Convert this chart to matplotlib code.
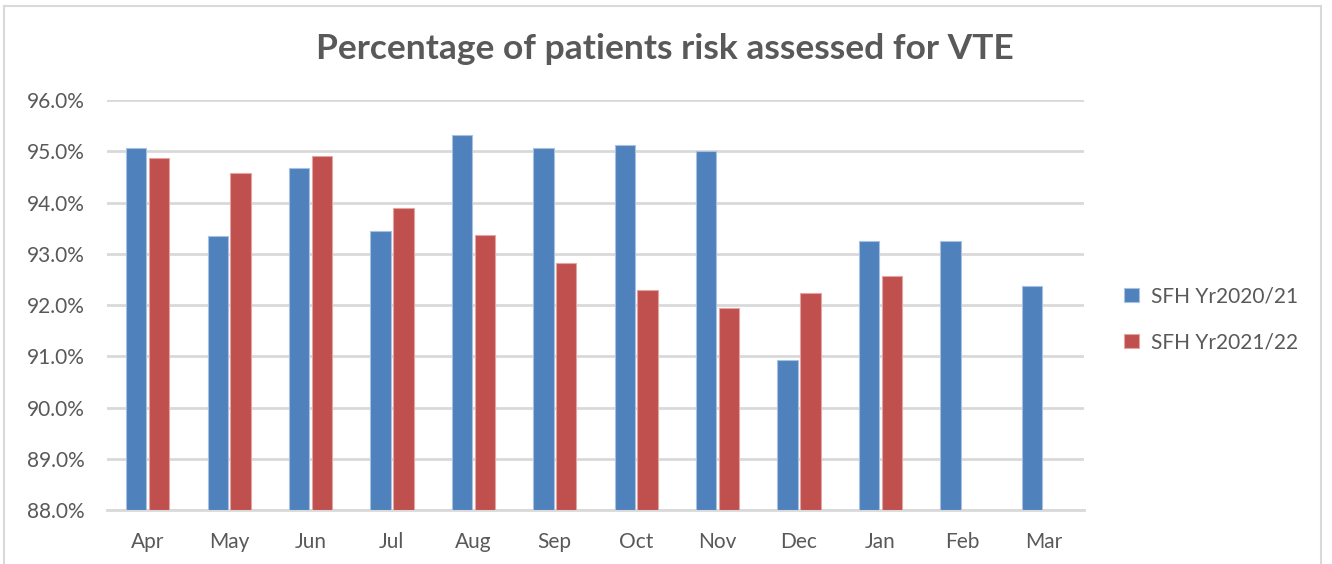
import matplotlib.pyplot as plt
import numpy as np
from matplotlib.lines import Line2D
from matplotlib.ticker import FuncFormatter

months = ["Apr", "May", "Jun", "Jul", "Aug", "Sep", "Oct", "Nov", "Dec", "Jan", "Feb", "Mar"]
yr_2020_21 = [95.06, 93.35, 94.68, 93.45, 95.32, 95.06, 95.13, 95.01, 90.93, 93.25, 93.25, 92.37]
yr_2021_22 = [94.86, 94.58, 94.91, 93.89, 93.37, 92.82, 92.30, 91.95, 92.23, 92.57, None, None]
series_names = ["SFH Yr2020/21", "SFH Yr2021/22"]

BLUE = "#4F81BD"
RED = "#C0504D"
TEXT = "#595959"
GRID = "#D9D9D9"

plt.rcParams["font.family"] = ["Lato", "DejaVu Sans"]

fig = plt.figure(figsize=(13.32, 5.64), dpi=100)
ax = fig.add_axes([0.0803, 0.0957, 0.7335, 0.727])

x = np.arange(len(months))
width = 0.25
offset = 0.14

blue_vals = np.array(yr_2020_21, dtype=float)
red_vals = np.array([np.nan if v is None else v for v in yr_2021_22], dtype=float)

base = 88.0
ax.bar(x - offset, blue_vals - base, width, bottom=base, color=BLUE,
       edgecolor="#A9C1E0", linewidth=0.8, label=series_names[0], zorder=3)
ax.bar(x + offset, red_vals - base, width, bottom=base, color=RED,
       edgecolor="#E3A5A3", linewidth=0.8, label=series_names[1], zorder=3)

ax.set_xlim(-0.5, len(months) - 0.5)
ax.set_ylim(88, 96)
ax.set_yticks(np.arange(88, 96.5, 1))
ax.yaxis.set_major_formatter(FuncFormatter(lambda v, _: f"{v:.1f}%"))
ax.set_xticks(x)
ax.set_xticklabels(months)

ax.grid(axis="y", color=GRID, linewidth=2, zorder=0)
for side in ["top", "right", "left"]:
    ax.spines[side].set_visible(False)
ax.spines["bottom"].set_color(GRID)
ax.spines["bottom"].set_linewidth(2)
ax.tick_params(axis="both", length=0, labelsize=15, colors=TEXT)
ax.tick_params(axis="x", pad=16)
ax.tick_params(axis="y", pad=16)

fig.text(0.4995, 0.913, "Percentage of patients risk assessed for VTE",
         ha="center", va="center", fontsize=25.5, fontweight="bold", color=TEXT)

leg = fig.legend(loc="center left", bbox_to_anchor=(0.83, 0.434), frameon=False,
                 fontsize=15, labelcolor=TEXT, handlelength=0.7, handleheight=0.7,
                 handletextpad=0.6, labelspacing=1.25)

# chart border (bottom edge is cropped in the original)
for xs, ys in [([0.003, 0.003], [0.0, 0.99]), ([0.003, 0.992], [0.99, 0.99]),
               ([0.992, 0.992], [0.0, 0.99])]:
    fig.add_artist(Line2D(xs, ys, color=GRID, linewidth=1.5, transform=fig.transFigure))

fig.savefig("out.png", dpi=100)
